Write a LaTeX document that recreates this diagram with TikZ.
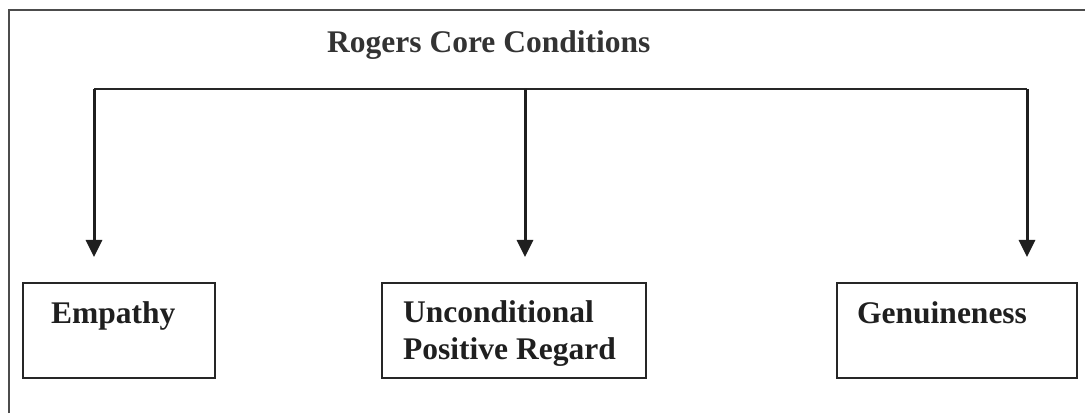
\documentclass[tikz,border=0pt]{standalone}
\usepackage{fontspec}
\setmainfont{Liberation Serif}
\usetikzlibrary{arrows.meta}
\begin{document}
\begin{tikzpicture}[x=1pt,y=1pt,
  framestyle/.style={draw=black!70,line width=2pt},
  boxstyle/.style={draw=black!85,line width=1.8pt,minimum height=95pt,inner sep=0pt,anchor=north west},
  labelstyle/.style={font=\fontsize{31.5}{37}\selectfont\bfseries,text=black!88,inner sep=0pt,anchor=base west},
  barstyle/.style={draw=black!85,line width=1.5pt},
  arrowstyle/.style={draw=black!88,line width=3pt,-{Triangle[width=16pt,length=17pt]}}]
\useasboundingbox (0,0) rectangle (1085,413);
% outer frame (open at right and bottom)
\draw[framestyle] (9,0) -- (9,403) -- (1085,403);
% title
\node[labelstyle,text=black!80] (title) at (327,360) {Rogers Core Conditions};
% bar and branch points
\coordinate (b1) at (94,324);
\coordinate (b2) at (525,324);
\coordinate (b3) at (1027,324);
\draw[barstyle] (b1) -- (b2) -- (b3);
% arrow ends
\coordinate (e1) at (94,156);
\coordinate (e2) at (525,156);
\coordinate (e3) at (1027,156);
\draw[arrowstyle] (b1) -- (e1);
\draw[arrowstyle] (b2) -- (e2);
\draw[arrowstyle] (b3) -- (e3);
% boxes
\node[boxstyle,minimum width=192pt] (emp) at (22,131) {};
\node[boxstyle,minimum width=264pt] (upr) at (381,131) {};
\node[boxstyle,minimum width=240pt] (gen) at (836,131) {};
% texts
\node[labelstyle] (empt) at (51,90) {Empathy};
\node[labelstyle] (uprt1) at (403,91) {Unconditional};
\node[labelstyle] (uprt2) at (403,54) {Positive Regard};
\node[labelstyle] (gent) at (857,90) {Genuineness};
\end{tikzpicture}
\end{document}
